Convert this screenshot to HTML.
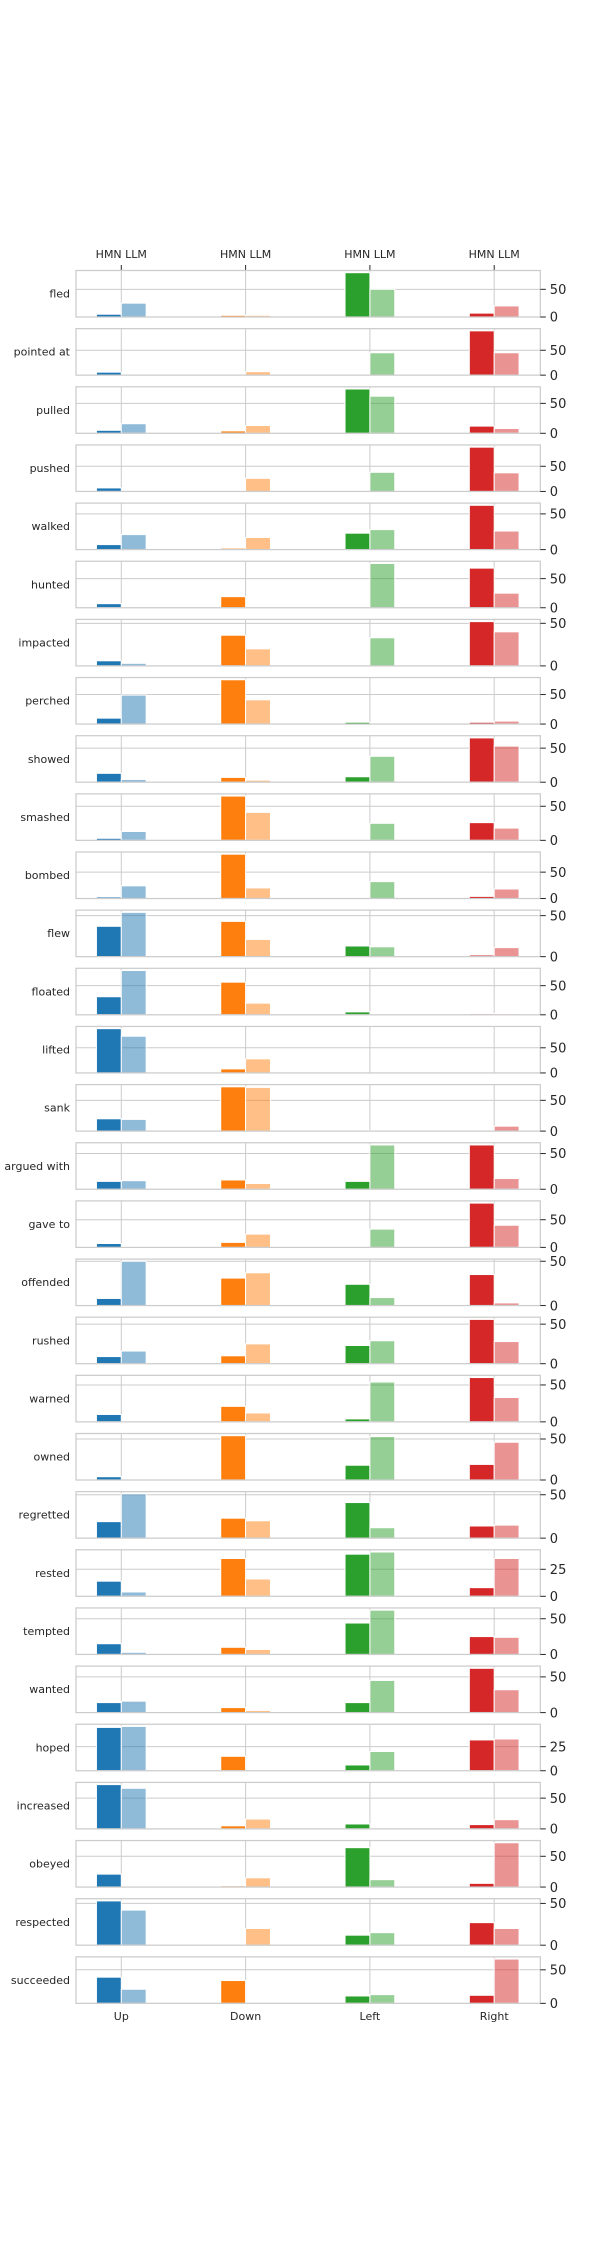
<!DOCTYPE html>
<html>
<head>
<meta charset="utf-8">
<style>
  html, body { margin: 0; padding: 0; background: #ffffff; }
  body { width: 600px; height: 2250px; overflow: hidden; }
  svg text { font-family: "DejaVu Sans", "Liberation Sans", sans-serif; fill: #262626; }
</style>
</head>
<body>
<svg id="chart" xmlns="http://www.w3.org/2000/svg" width="600" height="2250" viewBox="0 0 600 2250"></svg>
<script>
const verbs = ["fled","pointed at","pulled","pushed","walked","hunted","impacted","perched","showed","smashed","bombed","flew","floated","lifted","sank","argued with","gave to","offended","rushed","warned","owned","regretted","rested","tempted","wanted","hoped","increased","obeyed","respected","succeeded"];
const directions = ["Up","Down","Left","Right"];
const sourceLabels = ["HMN","LLM"];
const hmnUp    = [5,6,5,7,7,7,6,10,13,3,3,37,31,88,20,11,7,8,9,10,4,19,14,15,14,45,72,21,53,39];
const llmUp    = [25,0,16,0,21,0,3,49,4,13,24,54,76,73,19,12,0,50,16,0,0,51,4,3,16,46,66,0,42,21];
const hmnDown  = [3,2,4,2,2,19,36,75,7,65,84,43,56,8,72,13,9,31,10,21,54,23,35,10,7,15,5,2,1,34];
const llmDown  = [3,7,13,26,17,0,20,41,3,41,20,21,20,28,71,8,24,37,25,12,0,20,16,7,3,0,16,15,20,0];
const hmnLeft  = [80,0,74,0,23,0,1,3,8,0,0,13,5,0,1,11,0,24,23,4,18,41,39,44,14,6,8,64,12,11];
const llmLeft  = [50,45,62,38,28,76,33,0,38,25,32,12,0,0,0,62,33,9,29,54,53,12,41,62,45,20,0,12,15,13];
const hmnRight = [7,89,12,88,62,68,52,3,65,26,4,2,2,0,0,62,80,35,56,60,19,14,8,25,62,32,7,6,27,12];
const llmRight = [20,45,8,37,26,25,40,5,53,18,18,11,2,0,8,15,40,3,28,33,46,15,35,24,32,33,15,72,20,66];

const hmnSeries = [hmnUp, hmnDown, hmnLeft, hmnRight];
const llmSeries = [llmUp, llmDown, llmLeft, llmRight];
const hmnColors = ["#1f77b4","#ff7f0e","#2ca02c","#d62728"];

const NS = "http://www.w3.org/2000/svg";
const svg = document.getElementById("chart");
const PL = 76, PR = 540.3, TOP0 = 270.5, PITCH = 58.15, PH = 46.5;
const X0 = 121.3, XU = 124.3, BW = 0.2;
function xScale(v) { return X0 + v * XU; }

function mk(tag, attrs, parent) {
  const e = document.createElementNS(NS, tag);
  for (const k in attrs) e.setAttribute(k, attrs[k]);
  (parent || svg).appendChild(e);
  return e;
}

// top labels + ticks
directions.forEach((d, i) => {
  const t = mk("text", {x: xScale(i), y: 258, "font-size": 11, "text-anchor": "middle"});
  t.textContent = sourceLabels.join(" ");
  
  
  const tk = mk("line", {x1: xScale(i), x2: xScale(i), y1: 265, y2: 270.5, stroke: "#262626", "stroke-width": 1});
  
  
  const xl = mk("text", {x: xScale(i), y: 2020, "font-size": 11, "text-anchor": "middle"});
  xl.textContent = d;
  
  
});

verbs.forEach((verb, r) => {
  const top = TOP0 + r * PITCH, bot = top + PH;
  let mx = 0;
  for (let c = 0; c < 4; c++) mx = Math.max(mx, hmnSeries[c][r], llmSeries[c][r]);
  const ymax = mx * 1.05 || 1;
  const yS = v => bot - v / ymax * PH;
  const g = mk("g", {});
  
  

  const step = ymax < 50 ? 25 : 50;
  const ticks = [];
  for (let v = 0; v <= ymax; v += step) ticks.push(v);
  // grid
  ticks.forEach(v => {
    if (v > 0) {
      const gl = mk("line", {x1: PL, x2: PR, y1: yS(v), y2: yS(v), stroke: "#cccccc", "stroke-width": 1}, g);
      
      
    }
  });
  for (let c = 0; c < 4; c++) {
    const vl = mk("line", {x1: xScale(c), x2: xScale(c), y1: top, y2: bot, stroke: "#cccccc", "stroke-width": 1}, g);
    
    
  }
  // bars
  for (let c = 0; c < 4; c++) {
    const hv = hmnSeries[c][r], lv = llmSeries[c][r];
    const hb = mk("rect", {x: xScale(c - BW), y: yS(hv), width: xScale(c) - xScale(c - BW), height: bot - yS(hv),
      fill: hmnColors[c], stroke: "#ffffff", "stroke-width": 1}, g);
    
    
    const lb = mk("rect", {x: xScale(c), y: yS(lv), width: xScale(c + BW) - xScale(c), height: bot - yS(lv),
      fill: hmnColors[c], "fill-opacity": 0.5, stroke: "#ffffff", "stroke-width": 1}, g);
    
    
  }
  // frame
  const fr = mk("rect", {x: PL, y: top, width: PR - PL, height: PH, fill: "none", stroke: "#cccccc", "stroke-width": 1.25}, g);
  
  
  // y ticks right
  ticks.forEach(v => {
    const tk = mk("line", {x1: PR, x2: PR + 5.5, y1: yS(v), y2: yS(v), stroke: "#262626", "stroke-width": 1}, g);
    
    
    const tl = mk("text", {x: PR + 9.5, y: yS(v) + 4.7, "font-size": 13}, g);
    tl.textContent = String(v);
    
    
  });
  // row label
  const rl = mk("text", {x: 70, y: (top + bot) / 2 + 3.8, "font-size": 11, "text-anchor": "end"}, g);
  rl.textContent = verb;
  
  
});
</script>
</body>
</html>
